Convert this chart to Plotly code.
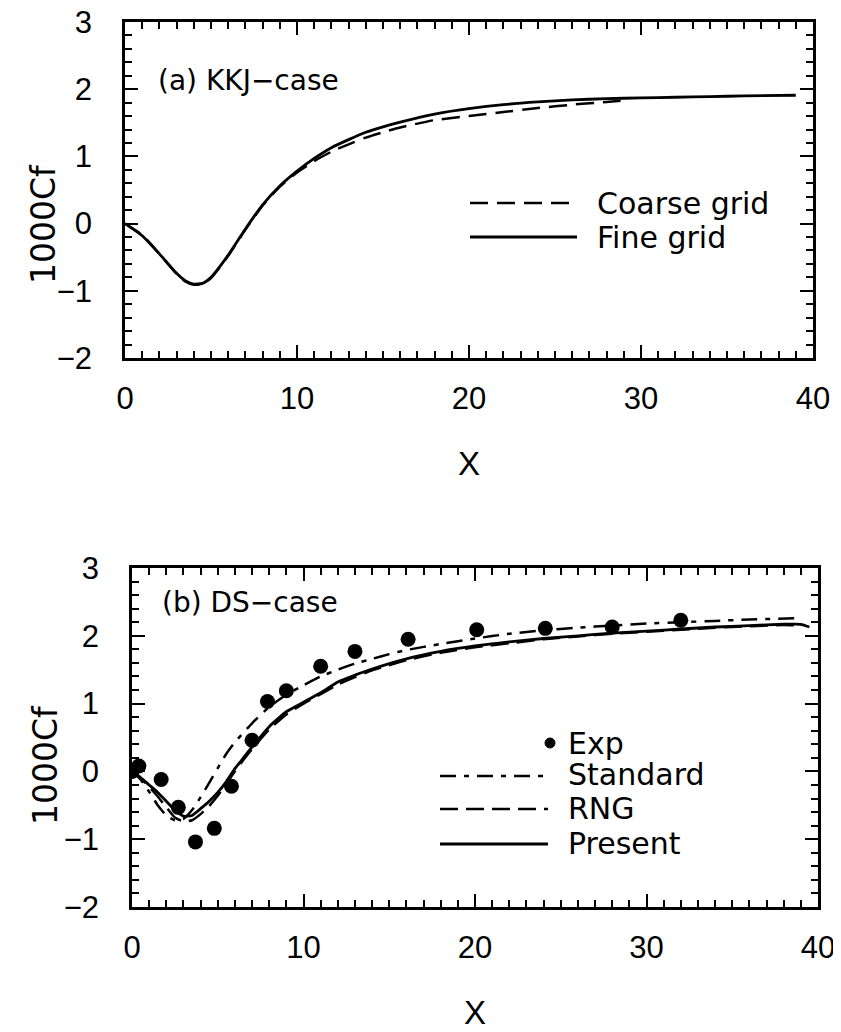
import plotly.graph_objects as go

W, H = 841, 1032
OFF = 8  # default page margin of the browser body
FW, FH = W - OFF, H - OFF

# ---------------- data: (a) KKJ-case ----------------
fine_x = [0, 1, 2, 3, 3.5, 4, 4.5, 5, 6, 7, 8, 9, 10, 11, 12, 13, 14, 15, 16, 18, 20, 22, 24, 26, 28, 30, 32, 34, 36, 39]
fine_y = [0, -0.18, -0.45, -0.74, -0.85, -0.90, -0.89, -0.80, -0.47, -0.08, 0.28, 0.56, 0.78, 0.97, 1.13, 1.25,
          1.36, 1.44, 1.51, 1.63, 1.71, 1.77, 1.81, 1.84, 1.86, 1.87, 1.88, 1.89, 1.90, 1.91]
coarse_x = [0, 1, 2, 3, 3.5, 4, 4.5, 5, 6, 7, 8, 9, 10, 11, 12, 13, 14, 15, 16, 18, 20, 22, 24, 26, 28, 29]
coarse_y = [0, -0.17, -0.45, -0.75, -0.86, -0.91, -0.90, -0.81, -0.48, -0.09, 0.27, 0.55, 0.76, 0.93, 1.07, 1.18,
            1.28, 1.36, 1.43, 1.54, 1.60, 1.66, 1.72, 1.77, 1.81, 1.83]

# ---------------- data: (b) DS-case ----------------
exp_x = [0, 0.4, 1.7, 2.7, 3.7, 4.8, 5.8, 7.0, 7.9, 9.0, 11.0, 13.0, 16.1, 20.1, 24.1, 28.0, 32.0]
exp_y = [0, 0.08, -0.12, -0.53, -1.04, -0.84, -0.22, 0.46, 1.03, 1.19, 1.55, 1.77, 1.95, 2.09, 2.11, 2.13, 2.23]

std_x = [0, 0.5, 1, 1.5, 2, 2.5, 3, 3.5, 4, 4.5, 5, 5.5, 6, 7, 8, 9, 10, 11, 12, 13, 14, 15, 16, 18, 20, 22,
         24, 26, 28, 30, 32, 34, 36, 39]
std_y = [0, -0.12, -0.30, -0.50, -0.65, -0.72, -0.70, -0.57, -0.38, -0.17, 0.05, 0.26, 0.43, 0.71, 0.95, 1.13,
         1.27, 1.40, 1.50, 1.59, 1.66, 1.73, 1.79, 1.88, 1.96, 2.03, 2.08, 2.12, 2.15, 2.18, 2.20, 2.22, 2.24, 2.26]

rng_x = [0, 0.5, 1, 1.5, 2, 2.5, 3, 3.5, 4, 4.5, 5, 5.5, 6, 6.5, 7, 8, 9, 10, 11, 12, 13, 14, 16, 18, 20, 22,
         24, 26, 28, 30, 32, 34, 36, 38, 39]
rng_y = [0, -0.10, -0.23, -0.37, -0.53, -0.68, -0.74, -0.72, -0.63, -0.51, -0.36, -0.18, 0.0, 0.17, 0.33, 0.62,
         0.84, 1.00, 1.14, 1.28, 1.39, 1.49, 1.64, 1.75, 1.83, 1.89, 1.95, 1.99, 2.03, 2.06, 2.09, 2.12, 2.14,
         2.16, 2.15]

pres_x = [0, 0.5, 1, 1.5, 2, 2.5, 3, 3.5, 4, 4.5, 5, 5.5, 6, 6.5, 7, 8, 9, 10, 11, 12, 13, 14, 16, 18, 20, 22,
          24, 26, 28, 30, 32, 34, 36, 38, 39, 39.5]
pres_y = [0, -0.09, -0.20, -0.31, -0.44, -0.57, -0.66, -0.65, -0.55, -0.44, -0.31, -0.15, 0.04, 0.20, 0.36, 0.66,
          0.88, 1.02, 1.16, 1.32, 1.42, 1.51, 1.66, 1.77, 1.85, 1.91, 1.96, 2.00, 2.04, 2.07, 2.10, 2.13, 2.15,
          2.17, 2.17, 2.13]

x_ticks = [0, 10, 20, 30, 40]
y_ticks = [-2, -1, 0, 1, 2, 3]

TICKFONT = dict(family="Liberation Sans", size=31, color="black")
XTITLEFONT = dict(family="Liberation Sans", size=33, color="black")
YTITLEFONT = dict(family="DejaVu Sans", size=33, color="black")
TEXTFONT = dict(family="DejaVu Sans", size=30, color="black")
PANELFONT = dict(family="DejaVu Sans", size=28, color="black")


def px(x):
    return (x - OFF) / FW


def py(y):
    return 1 - (y - OFF) / FH


SPL = dict(shape="spline", smoothing=0.5)
LW = 2.8

fig = go.Figure()

# top panel
fig.add_trace(go.Scatter(x=coarse_x, y=coarse_y, mode="lines", name="Coarse grid",
                         line=dict(color="black", width=2.5, dash="18px,9px", **SPL), xaxis="x", yaxis="y"))
fig.add_trace(go.Scatter(x=fine_x, y=fine_y, mode="lines", name="Fine grid",
                         line=dict(color="black", width=LW, **SPL), xaxis="x", yaxis="y"))

# bottom panel
fig.add_trace(go.Scatter(x=std_x, y=std_y, mode="lines", name="Standard",
                         line=dict(color="black", width=2.5, dash="16px,8px,5px,8px", **SPL),
                         xaxis="x2", yaxis="y2"))
fig.add_trace(go.Scatter(x=rng_x, y=rng_y, mode="lines", name="RNG",
                         line=dict(color="black", width=2.5, dash="18px,8px", **SPL), xaxis="x2", yaxis="y2"))
fig.add_trace(go.Scatter(x=pres_x, y=pres_y, mode="lines", name="Present",
                         line=dict(color="black", width=LW, **SPL), xaxis="x2", yaxis="y2"))
fig.add_trace(go.Scatter(x=exp_x, y=exp_y, mode="markers", name="Exp",
                         marker=dict(color="black", size=15), xaxis="x2", yaxis="y2"))


def xaxis(domain, anchor):
    return dict(domain=domain, anchor=anchor, range=[0, 40], tickvals=x_ticks,
                ticks="inside", ticklen=13, tickwidth=2, tickcolor="black",
                showline=True, linewidth=2.5, linecolor="black", mirror="ticks",
                showgrid=False, zeroline=False, automargin=False, ticklabeloverflow="allow",
                minor=dict(dtick=1, tick0=0, ticks="inside", ticklen=7, tickwidth=1.6, tickcolor="black"),
                tickfont=TICKFONT, ticklabelstandoff=11,
                title=dict(text="X", font=XTITLEFONT, standoff=37))


def yaxis(domain, anchor):
    return dict(domain=domain, anchor=anchor, range=[-2, 3], tickvals=y_ticks,
                ticks="inside", ticklen=13, tickwidth=2, tickcolor="black",
                showline=True, linewidth=2.5, linecolor="black", mirror="ticks",
                showgrid=False, zeroline=False, automargin=False, ticklabeloverflow="allow",
                minor=dict(dtick=0.2, tick0=0, ticks="inside", ticklen=7, tickwidth=1.6, tickcolor="black"),
                tickfont=TICKFONT, ticklabelstandoff=24)


shapes = []
annotations = []

# y-axis titles (placed level with the zero line, as in the reference)
annotations.append(dict(text="1000Cf", x=px(43), y=py(224), xref="paper", yref="paper", textangle=-90,
                        xanchor="center", yanchor="middle", showarrow=False, font=YTITLEFONT))
annotations.append(dict(text="1000Cf", x=px(45), y=py(765), xref="paper", yref="paper", textangle=-90,
                        xanchor="center", yanchor="middle", showarrow=False, font=YTITLEFONT))

# legend (a)
shapes.append(dict(type="line", xref="paper", yref="paper", x0=px(470), x1=px(577), y0=py(203), y1=py(203),
                   line=dict(color="black", width=2.5, dash="18px,9px")))
shapes.append(dict(type="line", xref="paper", yref="paper", x0=px(470), x1=px(577), y0=py(237), y1=py(237),
                   line=dict(color="black", width=LW)))
annotations.append(dict(text="Coarse grid", x=px(595), y=py(203), xref="paper", yref="paper",
                        xanchor="left", yanchor="middle", showarrow=False, font=TEXTFONT))
annotations.append(dict(text="Fine grid", x=px(595), y=py(237), xref="paper", yref="paper",
                        xanchor="left", yanchor="middle", showarrow=False, font=TEXTFONT))
annotations.append(dict(text="(a) KKJ\u2212case", x=px(156), y=py(80), xref="paper", yref="paper",
                        xanchor="left", yanchor="middle", showarrow=False, font=PANELFONT))

# legend (b)
shapes.append(dict(type="circle", xref="paper", yref="paper", x0=px(545), x1=px(555), y0=py(738), y1=py(748),
                   fillcolor="black", line=dict(color="black", width=1)))
shapes.append(dict(type="line", xref="paper", yref="paper", x0=px(440), x1=px(548), y0=py(776), y1=py(776),
                   line=dict(color="black", width=2.5, dash="16px,8px,5px,8px")))
shapes.append(dict(type="line", xref="paper", yref="paper", x0=px(440), x1=px(548), y0=py(809), y1=py(809),
                   line=dict(color="black", width=2.5, dash="18px,8px")))
shapes.append(dict(type="line", xref="paper", yref="paper", x0=px(440), x1=px(548), y0=py(844), y1=py(844),
                   line=dict(color="black", width=LW)))
for txt, yy in [("Exp", 743), ("Standard", 774), ("RNG", 808), ("Present", 843)]:
    annotations.append(dict(text=txt, x=px(566), y=py(yy), xref="paper", yref="paper",
                            xanchor="left", yanchor="middle", showarrow=False, font=TEXTFONT))
annotations.append(dict(text="(b) DS\u2212case", x=px(160), y=py(602), xref="paper", yref="paper",
                        xanchor="left", yanchor="middle", showarrow=False, font=PANELFONT))

fig.update_layout(
    width=FW, height=FH,
    margin=dict(l=0, r=0, t=0, b=0, autoexpand=False),
    paper_bgcolor="white", plot_bgcolor="white",
    showlegend=False,
    xaxis=xaxis([px(125), px(813)], "y"),
    yaxis=yaxis([py(358), py(22)], "x"),
    xaxis2=xaxis([px(132), px(818)], "y2"),
    yaxis2=yaxis([py(907), py(568)], "x2"),
    shapes=shapes,
    annotations=annotations,
)

fig.write_html("out.html")
